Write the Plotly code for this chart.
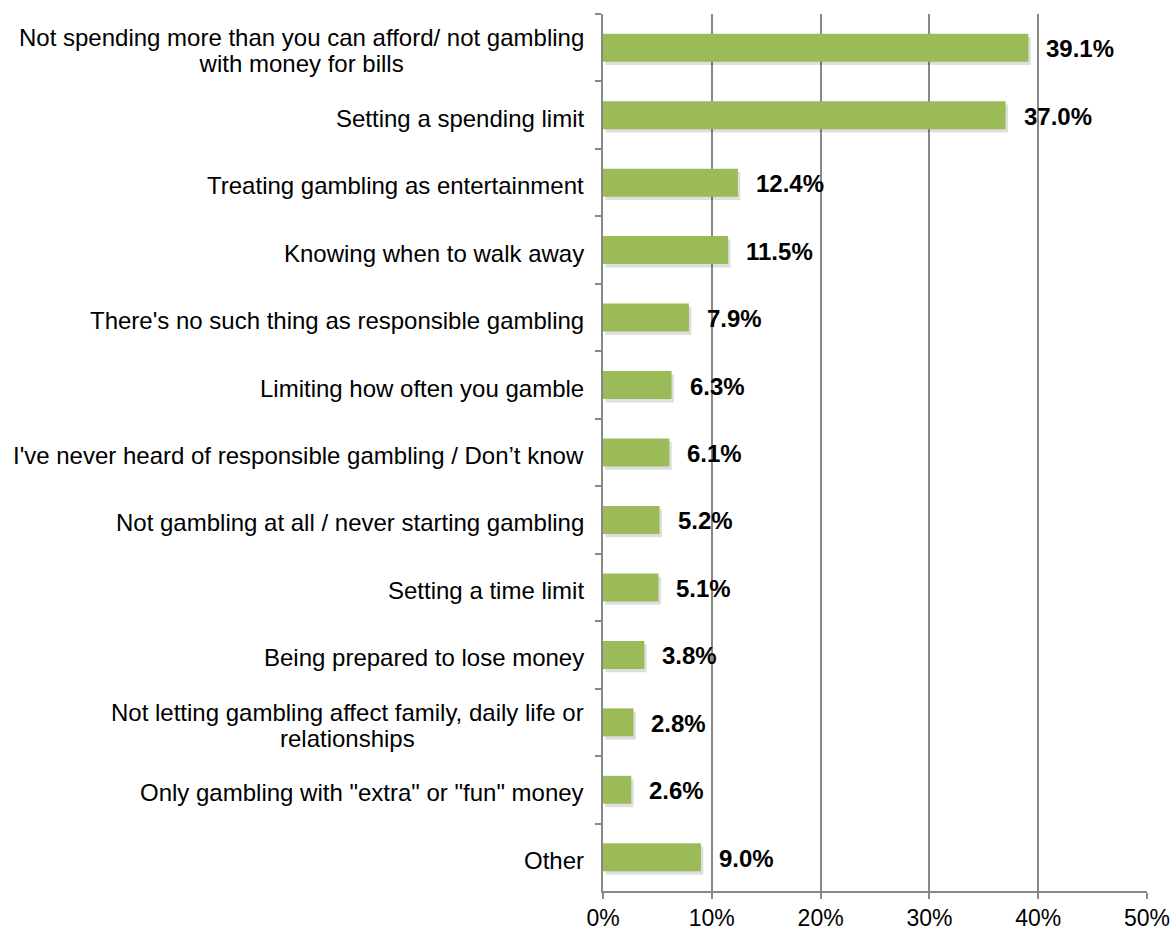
import plotly.graph_objects as go

categories = [
    "Not spending more than you can afford/ not gambling\nwith money for bills",
    "Setting a spending limit",
    "Treating gambling as entertainment",
    "Knowing when to walk away",
    "There's no such thing as responsible gambling",
    "Limiting how often you gamble",
    "I've never heard of responsible gambling / Don’t know",
    "Not gambling at all / never starting gambling",
    "Setting a time limit",
    "Being prepared to lose money",
    "Not letting gambling affect family, daily life or\nrelationships",
    "Only gambling with \"extra\" or \"fun\" money",
    "Other",
]
values = [39.1, 37.0, 12.4, 11.5, 7.9, 6.3, 6.1, 5.2, 5.1, 3.8, 2.8, 2.6, 9.0]
x_ticks = [0, 10, 20, 30, 40, 50]

FONT = "Arial, Liberation Sans, sans-serif"
GREEN = "#9BBB59"
GRID = "#888888"
BAR_W = 0.415

fig = go.Figure()
# soft shadow
fig.add_trace(go.Bar(
    x=values, y=categories, orientation="h",
    base=0.22, width=BAR_W, offset=-BAR_W / 2 + 0.05,
    marker=dict(color="rgba(0,0,0,0.13)", line=dict(width=0)),
    hoverinfo="skip", showlegend=False,
))
fig.add_trace(go.Bar(
    x=values, y=categories, orientation="h",
    width=BAR_W, offset=-BAR_W / 2,
    marker=dict(color=GREEN, line=dict(width=0)),
    showlegend=False,
))

for c, v in zip(categories, values):
    fig.add_annotation(
        x=v, y=c, xref="x", yref="y", text=f"<b>{v:.1f}%</b>",
        showarrow=False, xanchor="left", xshift=16, yshift=-1,
        font=dict(family=FONT, size=24, color="#000000"),
    )
    label = "<br>".join(
        f"<span style='font-size:24px'>{line}</span>" for line in c.split("\n")
    )
    fig.add_annotation(
        x=0, y=c, xref="paper", yref="y", text=label,
        showarrow=False, xanchor="right", xshift=-17, yshift=-3,
        align="center",
        font=dict(family=FONT, size=20, color="#000000"),
    )

fig.update_layout(
    width=1173, height=929,
    margin=dict(l=603, r=26, t=14, b=38, autoexpand=False),
    paper_bgcolor="white", plot_bgcolor="white",
    barmode="overlay",
    font=dict(family=FONT, size=23, color="#000000"),
    xaxis=dict(
        range=[0, 50], tickvals=x_ticks, ticktext=[f"{t}%" for t in x_ticks],
        showgrid=True, gridcolor=GRID, gridwidth=1.5,
        showline=True, linecolor=GRID, linewidth=1.5,
        ticks="outside", ticklen=6, tickcolor=GRID, tickwidth=1.5,
        automargin=False,
        zeroline=False, tickfont=dict(family=FONT, size=23, color="#000000"),
        fixedrange=True,
    ),
    yaxis=dict(
        type="category", autorange="reversed", automargin=False,
        showticklabels=False, showgrid=False,
        showline=True, linecolor=GRID, linewidth=1.5,
        ticks="outside", ticklen=6, tickcolor=GRID, tickwidth=1.5,
        tickson="boundaries", zeroline=False,
    ),
)

fig.write_html("out.html")
